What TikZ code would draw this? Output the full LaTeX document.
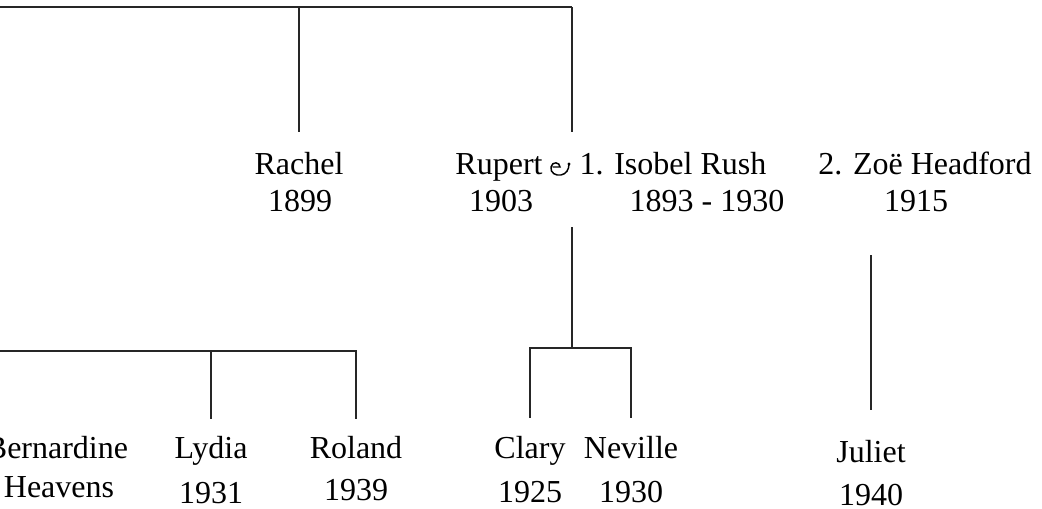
\documentclass[tikz,border=0pt]{standalone}
\usepackage{fontspec}
\setmainfont{Liberation Serif}

\tikzset{every picture/.style={line width=0.75pt}}
\tikzset{
  person/.style={anchor=base, inner sep=0pt, text height=16pt, text depth=0pt, font=\fontsize{24}{28}\selectfont},
  link/.style={line width=1pt, draw=black!85},
  wedsym/.style={line width=1.1pt, line cap=round},
}

\begin{document}
\begin{tikzpicture}[x=0.75pt,y=0.75pt,yscale=-1,xscale=1]
\useasboundingbox (0,0) rectangle (1042,509);

% Text Node
\node[person] (rachel) at (299,175) {Rachel};
\node[person] (rachelyr) at (300,212) {1899};
% Text Node
\node[person] (rupert) at (499,175) {Rupert};
\node[person] (rupertyr) at (501,212) {1903};
% Text Node
\node[person] (isobel) at (673,175) {1. Isobel Rush};
\node[person] (isobelyr) at (707,212) {1893 - 1930};
% Text Node
\node[person] (zoe) at (925,175) {2. Zoë Headford};
\node[person] (zoeyr) at (916,212) {1915};
% Text Node
\node[person] (bernardine) at (57,458) {Bernardine};
\node[person] (heavens) at (59,497) {Heavens};
% Text Node
\node[person] (lydia) at (211,458) {Lydia};
\node[person] (lydiayr) at (211,503) {1931};
% Text Node
\node[person] (roland) at (356,458) {Roland};
\node[person] (rolandyr) at (356,500) {1939};
% Text Node
\node[person] (clary) at (530,458) {Clary};
\node[person] (claryyr) at (530,502) {1925};
% Text Node
\node[person] (neville) at (631,458) {Neville};
\node[person] (nevilleyr) at (631,502) {1930};
% Text Node
\node[person] (juliet) at (871,462) {Juliet};
\node[person] (julietyr) at (871,505) {1940};

%Shape: marriage sign
\begin{scope}[shift={(561,168)}]
\draw[wedsym] (-8,-1) -- (-1,-1) .. controls (-1,-6) and (-9,-7) .. (-10,-1) .. controls (-11,5) and (-5,8) .. (0,7) .. controls (5,6) and (8,2) .. (8,-4) ;
\fill (8,-4) circle [radius=1.6];
\end{scope}

%Straight Lines
\coordinate (top0) at (0,7);
\coordinate (top1) at (572,7);
\draw[link] (top0) -- (top1);
\draw[link, shorten >=16pt] (top0 -| rachel) -- (rachel.north);
\draw[link, shorten >=16pt] (top1) -- (top1 |- rupert.north);
%Straight Lines
\coordinate (rupkids) at (572,348);
\draw[link, shorten <=11pt] (top1 |- rupertyr.south) -- (rupkids);
\draw[link, shorten <=14pt, shorten >=14pt] (clary.north) |- (rupkids) -| (neville.north);
%Straight Lines
\draw[link, shorten <=32pt, shorten >=23pt] (zoeyr.south -| juliet) -- (juliet.north);
%Straight Lines
\coordinate (leftedge) at (0,351);
\draw[link, shorten >=13pt] (leftedge) -| (roland.north);
\draw[link, shorten >=13pt] (leftedge -| lydia) -- (lydia.north);

\end{tikzpicture}
\end{document}
